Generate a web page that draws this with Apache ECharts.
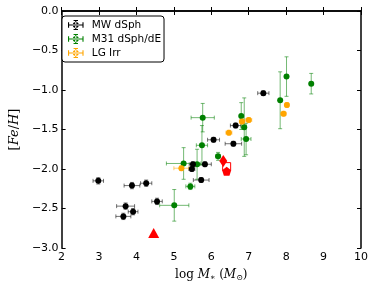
<!DOCTYPE html>
<html><head><meta charset="utf-8">
<script src="https://cdn.jsdelivr.net/npm/echarts@6/dist/echarts.min.js"></script>
<style>html,body{margin:0;padding:0;background:#fff}#c{width:374px;height:288px}</style>
</head><body><div id="c"></div>
<script>
// ---- data ----
const xTicks = [2, 3, 4, 5, 6, 7, 8, 9, 10];
const yTicks = [0, -0.5, -1, -1.5, -2, -2.5, -3];
const seriesNames = ['MW dSph', 'M31 dSph/dE', 'LG Irr'];

const mwX    = [2.98, 3.88, 4.26, 3.71, 3.91, 3.65, 4.55, 5.51, 5.83, 5.48, 5.73, 6.06, 6.59, 6.65, 7.39];
const mwY    = [-2.15, -2.21, -2.18, -2.47, -2.54, -2.60, -2.41, -1.94, -1.94, -2.00, -2.14, -1.63, -1.68, -1.45, -1.04];
const mwXerr = [0.14, 0.21, 0.15, 0.24, 0.13, 0.20, 0.14, 0.10, 0.17, 0.08, 0.21, 0.16, 0.22, 0.14, 0.15];
const mwYerr = [0.04, 0.04, 0.04, 0.04, 0.04, 0.04, 0.04, 0.03, 0.03, 0.03, 0.03, 0.03, 0.03, 0.03, 0.03];

const m31X    = [5.77, 5.75, 5.26, 5.62, 5.44, 5.01, 6.18, 6.80, 6.88, 6.93, 7.84, 8.01, 8.67];
const m31Y    = [-1.35, -1.70, -1.93, -1.94, -2.22, -2.46, -1.84, -1.33, -1.47, -1.62, -1.13, -0.83, -0.92];
const m31Xerr = [0.31, 0.15, 0.46, 0.05, 0.12, 0.39, 0.06, 0.04, 0.04, 0.13, 0.03, 0.03, 0.04];
const m31Yerr = [0.18, 0.25, 0.20, 0.19, 0.04, 0.20, 0.05, 0.17, 0.37, 0.20, 0.36, 0.25, 0.13];

const irrX    = [5.20, 6.47, 6.82, 7.00, 7.93, 8.02];
const irrY    = [-1.99, -1.54, -1.40, -1.38, -1.30, -1.19];
const irrXerr = [0.20, 0.08, 0.07, 0.08, 0.07, 0.05];
const irrYerr = [0.03, 0.03, 0.03, 0.03, 0.03, 0.03];

const redTriangle = [4.46, -2.81];
const redDiamond  = [6.32, -1.90];
const redSquare   = [6.41, -1.97];
const redPentagon = [6.41, -2.03];

// ---- helpers ----
function zip(xs, ys, xe, ye) { return xs.map((x, i) => [x, ys[i], xe[i], ye[i]]); }
function errRender(color) {
  return function (params, api) {
    const x = api.value(0), y = api.value(1), xe = api.value(2), ye = api.value(3);
    const l = api.coord([x - xe, y]), r = api.coord([x + xe, y]);
    const t = api.coord([x, y + ye]), b = api.coord([x, y - ye]);
    const c = 2;
    const st = { stroke: color, lineWidth: 1 };
    const ln = (x1, y1, x2, y2) => ({ type: 'line', shape: { x1, y1, x2, y2 }, style: st });
    return { type: 'group', children: [
      ln(l[0], l[1], r[0], r[1]),
      ln(l[0], l[1] - c, l[0], l[1] + c),
      ln(r[0], r[1] - c, r[0], r[1] + c),
      ln(t[0], t[1], b[0], b[1]),
      ln(t[0] - c, t[1], t[0] + c, t[1]),
      ln(b[0] - c, b[1], b[0] + c, b[1])
    ]};
  };
}
const errIcon = 'path://M1,4.5H15V5.5H1Z M1,2.5H2V7.5H1Z M14,2.5H15V7.5H14Z M7.5,0.5H8.5V9.5H7.5Z M6,0.5H10V1.5H6Z M6,8.5H10V9.5H6Z M5.3,5A2.7,2.7 0 1,0 10.7,5A2.7,2.7 0 1,0 5.3,5Z';
const fmt = v => (v < 0 ? '\u2212' : '') + Math.abs(v).toFixed(1);
const tickFont = { fontFamily: 'DejaVu Sans', fontSize: 11, color: '#000' };
const axisLine = { show: true, lineStyle: { color: '#000', width: 1.5 } };
const axisTick = { show: true, inside: true, length: 4, lineStyle: { color: '#000', width: 1 } };

const mathRich = {
  r: { fontFamily: 'DejaVu Serif', fontSize: 12, color: '#000' },
  i: { fontFamily: 'DejaVu Serif', fontStyle: 'italic', fontSize: 12, color: '#000' },
  s: { fontFamily: 'DejaVu Serif', fontSize: 8, color: '#000', verticalAlign: 'bottom', padding: [6, 0, 0, 0] }
};
const yRich = {
  r: { fontFamily: 'DejaVu Serif', fontSize: 13, color: '#000' },
  i: { fontFamily: 'DejaVu Serif', fontStyle: 'italic', fontSize: 13, color: '#000' }
};

const chart = echarts.init(document.getElementById('c'), null, { renderer: 'canvas' });
chart.setOption({
  animation: false,
  backgroundColor: '#fff',
  grid: { left: 57, right: 13, top: 11, bottom: 40 },
  legend: {
    data: seriesNames.map(n => ({ name: n, icon: errIcon })),
    orient: 'vertical', left: 62, top: 16,
    itemWidth: 16, itemHeight: 10, itemGap: 2,
    padding: [3, 3, 3, 6],
    borderColor: '#000', borderWidth: 1, borderRadius: 3, backgroundColor: '#fff',
    textStyle: { fontFamily: 'DejaVu Sans', fontSize: 10.5, color: '#000', lineHeight: 12, padding: [0, 0, 0, 3] }
  },
  xAxis: [
    { type: 'value', min: xTicks[0], max: xTicks[xTicks.length - 1], interval: 1, position: 'bottom',
      axisLine, axisTick, splitLine: { show: false },
      axisLabel: Object.assign({ margin: 4 }, tickFont),
      name: '{r|log }{i|M}{s|\u2217}{r| (}{i|M}{s|\u2299}{r|)}', nameLocation: 'middle', nameGap: 20,
      nameTextStyle: { rich: mathRich } },
    { type: 'value', min: xTicks[0], max: xTicks[xTicks.length - 1], interval: 1, position: 'top',
      axisLine, axisTick, splitLine: { show: false }, axisLabel: { show: false } }
  ],
  yAxis: [
    { type: 'value', min: yTicks[yTicks.length - 1], max: yTicks[0], interval: 0.5, position: 'left',
      axisLine, axisTick, splitLine: { show: false },
      axisLabel: Object.assign({ margin: 3, formatter: fmt }, tickFont),
      name: '{r|[}{i|Fe}{r|/}{i|H}{r|]}', nameLocation: 'middle', nameGap: 39, nameRotate: 90,
      nameTextStyle: { rich: yRich } },
    { type: 'value', min: yTicks[yTicks.length - 1], max: yTicks[0], interval: 0.5, position: 'right',
      axisLine, axisTick, splitLine: { show: false }, axisLabel: { show: false } }
  ],
  series: [
    { name: 'MW dSph', type: 'custom', renderItem: errRender('rgba(0,0,0,0.55)'), data: zip(mwX, mwY, mwXerr, mwYerr), encode: { x: 0, y: 1 }, z: 2, itemStyle: { color: '#000' } },
    { name: 'M31 dSph/dE', type: 'custom', renderItem: errRender('rgba(0,128,0,0.55)'), data: zip(m31X, m31Y, m31Xerr, m31Yerr), encode: { x: 0, y: 1 }, z: 2, itemStyle: { color: '#008000' } },
    { name: 'LG Irr', type: 'custom', renderItem: errRender('rgba(255,165,0,0.55)'), data: zip(irrX, irrY, irrXerr, irrYerr), encode: { x: 0, y: 1 }, z: 2, itemStyle: { color: '#FFA500' } },
    { name: 'MW dSph', type: 'scatter', data: mwX.map((x, i) => [x, mwY[i]]), symbol: 'circle', symbolSize: 6, itemStyle: { color: '#000', opacity: 1 }, z: 5 },
    { name: 'M31 dSph/dE', type: 'scatter', data: m31X.map((x, i) => [x, m31Y[i]]), symbol: 'circle', symbolSize: 6, itemStyle: { color: '#008000', opacity: 1 }, z: 4 },
    { name: 'LG Irr', type: 'scatter', data: irrX.map((x, i) => [x, irrY[i]]), symbol: 'circle', symbolSize: 6, itemStyle: { color: '#FFA500', opacity: 1 }, z: 4 },
    { type: 'scatter', data: [redTriangle], symbol: 'triangle', symbolSize: [11, 10], itemStyle: { color: '#FF0000', opacity: 1 }, z: 6 },
    { type: 'scatter', data: [redDiamond], symbol: 'diamond', symbolSize: [8, 12], itemStyle: { color: '#FF0000', opacity: 1 }, z: 6 },
    { type: 'scatter', data: [redSquare], symbol: 'rect', symbolSize: 8, itemStyle: { color: 'rgba(255,255,255,0)', borderColor: '#FF0000', borderWidth: 1, opacity: 1 }, z: 6 },
    { type: 'scatter', data: [redPentagon], symbol: 'path://M0,-1L0.951,-0.309L0.588,0.809L-0.588,0.809L-0.951,-0.309Z', symbolSize: 9, itemStyle: { color: '#FF0000', opacity: 1 }, z: 7 }
  ]
});
</script>
</body></html>
